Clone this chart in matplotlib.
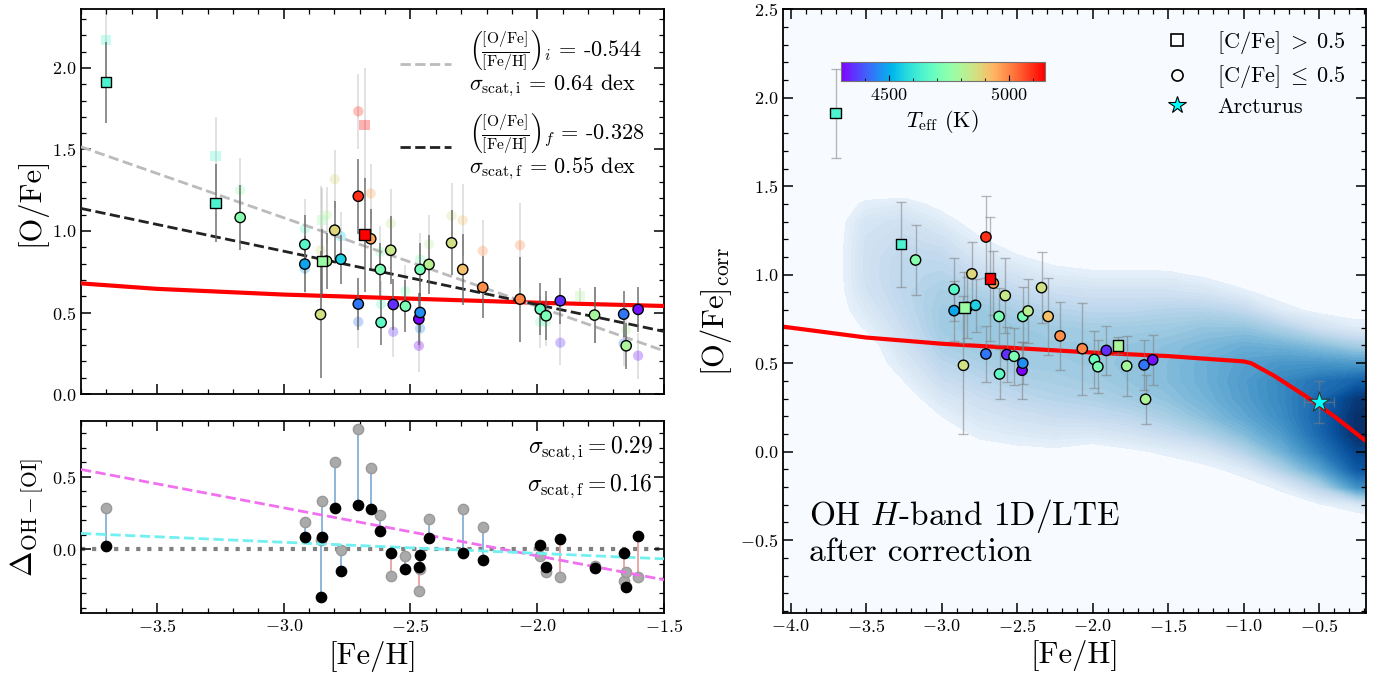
"""[O/Fe] vs [Fe/H] for the OH H-band sample: before/after correction.

Left: initial (faded) and corrected (solid) abundances with linear fits,
bottom: OH - [OI] differences. Right: corrected values on top of a
background density of field stars and a GCE model track.
"""

import matplotlib

matplotlib.use("Agg")

import matplotlib.pyplot as plt
import numpy as np
from matplotlib.colors import Normalize
from matplotlib.lines import Line2D
from matplotlib.ticker import MultipleLocator


plt.rcParams.update(
    {
        "font.family": "serif",
        "font.serif": ["cmr10"],
        "mathtext.fontset": "cm",
        "axes.formatter.use_mathtext": True,
        "axes.unicode_minus": True,
    }
)

# --- program stars --------------------------------------------------------
FEH = np.array([
    -3.702, -3.269, -3.172, -2.917, -2.917, -2.855, -2.848, -2.831, -2.799,
    -2.775, -2.706, -2.706, -2.681, -2.657, -2.619, -2.616, -2.578, -2.568,
    -2.520, -2.467, -2.462, -2.462, -2.427, -2.338, -2.294, -2.215, -2.068,
    -1.988, -1.965, -1.909, -1.830, -1.774, -1.659, -1.649, -1.602,
])
OFE_FINAL = np.array([
    1.912, 1.173, 1.083, 0.917, 0.797, 0.488, 0.815, 0.815, 1.005,
    0.827, 1.213, 0.552, 0.978, 0.952, 0.764, 0.439, 0.882, 0.549,
    0.539, 0.460, 0.500, 0.764, 0.795, 0.927, 0.764, 0.654, 0.582,
    0.521, 0.480, 0.572, 0.600, 0.484, 0.490, 0.296, 0.519,
])
OFE_INIT = np.array([
    2.170, 1.459, 1.250, 1.015, 0.770, 0.883, 1.066, 1.097, 1.318,
    0.968, 1.734, 0.443, 1.649, 1.230, 0.872, 0.552, 1.046, 0.382,
    0.631, 0.296, 0.402, 0.825, 0.919, 1.093, 1.066, 0.878, 0.913,
    0.443, 0.443, 0.315, 0.600, 0.484, 0.310, 0.392, 0.235,
])
OFE_ERR = np.array([
    0.25, 0.24, 0.20, 0.18, 0.17, 0.39, 0.20, 0.17, 0.18,
    0.15, 0.23, 0.16, 0.35, 0.18, 0.16, 0.14, 0.21, 0.155,
    0.16, 0.16, 0.12, 0.165, 0.18, 0.20, 0.22, 0.19, 0.26,
    0.16, 0.15, 0.14, 0.05, 0.17, 0.14, 0.14, 0.14,
])
TEFF = np.array([
    4640, 4640, 4740, 4660, 4490, 4860, 4770, 4800, 4880,
    4560, 5100, 4430, 5150, 4960, 4720, 4670, 4840, 4350,
    4720, 4300, 4460, 4710, 4820, 4860, 4920, 4990, 5000,
    4690, 4720, 4350, 4800, 4790, 4430, 4800, 4320,
])
CFE_RICH = np.array([
    1, 1, 0, 0, 0, 0, 1, 0, 0,
    0, 0, 0, 1, 0, 0, 0, 0, 0,
    0, 0, 0, 0, 0, 0, 0, 0, 0,
    0, 0, 0, 1, 0, 0, 0, 0,
], dtype=bool)
# corrected point drawn in the left panel (one star only shown faded there)
SHOWN_LEFT = np.ones(len(FEH), dtype=bool)
SHOWN_LEFT[30] = False

# --- OH - [OI] differences -------------------------------------------------
DELTA_FEH = np.array([
    -3.702, -2.917, -2.855, -2.848, -2.799, -2.775, -2.706, -2.657, -2.619,
    -2.578, -2.520, -2.467, -2.462, -2.427, -2.294, -2.215, -1.988, -1.965,
    -1.909, -1.774, -1.659, -1.649, -1.602,
])
DELTA_FINAL = np.array([
    0.023, 0.087, -0.326, 0.087, 0.287, -0.147, 0.303, 0.278, 0.128,
    -0.023, -0.138, -0.124, -0.039, 0.080, -0.023, -0.073, 0.028, -0.124,
    0.071, -0.131, -0.028, -0.257, 0.092,
])
DELTA_INIT = np.array([
    0.282, 0.186, 0.064, 0.335, 0.599, -0.005, 0.826, 0.557, 0.236,
    -0.183, -0.044, -0.284, -0.138, 0.206, 0.278, 0.151, -0.046, -0.158,
    -0.188, -0.115, -0.216, -0.156, -0.188,
])

# --- fits (slope, intercept) ----------------------------------------------
FIT_INIT = (-0.544, -0.551)
FIT_FINAL = (-0.328, -0.108)
FIT_DELTA_INIT = (-0.330, -0.704)
FIT_DELTA_FINAL = (-0.076, -0.179)

# --- Arcturus ---------------------------------------------------------------
ARCTURUS = (-0.50, 0.28)
ARCTURUS_ERR = (0.10, 0.12)

# --- GCE model track --------------------------------------------------------
GCE_FEH = [-4.10, -3.50, -3.00, -2.50, -2.00, -1.50, -1.00, -0.95,
           -0.80, -0.60, -0.40, -0.10]
GCE_OFE = [0.712, 0.645, 0.610, 0.585, 0.560, 0.540, 0.510, 0.500,
           0.430, 0.320, 0.200, 0.000]

# --- background field-star density (read on a coarse grid) -----------------
DENS_FEH = [-3.75, -3.5, -3.25, -3.0, -2.75, -2.5, -2.25, -2.0,
            -1.75, -1.5, -1.25, -1.0, -0.75, -0.5, -0.25, 0.0]
DENS_OFE = [1.5, 1.4, 1.3, 1.2, 1.1, 1.0, 0.9, 0.8, 0.7, 0.6, 0.5,
            0.4, 0.3, 0.2, 0.1, 0.0, -0.1, -0.2, -0.3, -0.4, -0.5]
DENSITY = [
    [0, 0, 0, 0, 0, 0, 0, 0, 0, 0, 0, 0, 0, 0, 0, 0],
    [0, .10, .12, .05, 0, 0, 0, 0, 0, 0, 0, 0, 0, 0, 0, 0],
    [0, .17, .20, .12, .03, 0, 0, 0, 0, 0, 0, 0, 0, 0, 0, 0],
    [0, .19, .24, .20, .09, .02, 0, 0, 0, 0, 0, 0, 0, 0, 0, 0],
    [0, .20, .27, .26, .16, .09, .04, .02, .02, 0, 0, 0, 0, 0, 0, 0],
    [0, .20, .28, .30, .24, .18, .12, .10, .10, .10, .06, 0, 0, 0, 0, 0],
    [0, .18, .28, .34, .32, .26, .22, .20, .20, .20, .17, .10, .03, 0, 0, 0],
    [0, .14, .26, .36, .38, .33, .30, .28, .28, .30, .30, .26, .12, .05, .03, .03],
    [0, .09, .23, .36, .40, .38, .36, .35, .36, .37, .40, .40, .32, .20, .12, .12],
    [0, .02, .19, .33, .38, .38, .38, .38, .40, .42, .46, .50, .48, .42, .34, .34],
    [0, 0, .14, .28, .33, .36, .37, .38, .41, .44, .50, .56, .60, .60, .58, .60],
    [0, 0, .08, .22, .28, .32, .34, .36, .40, .44, .50, .58, .66, .74, .80, .84],
    [0, 0, .02, .15, .22, .27, .30, .32, .36, .41, .48, .57, .66, .78, .96, 1.0],
    [0, 0, 0, .08, .16, .20, .23, .25, .28, .34, .43, .53, .64, .80, 1.0, 1.0],
    [0, 0, 0, .02, .10, .13, .15, .14, .18, .24, .32, .44, .58, .78, 1.0, 1.0],
    [0, 0, 0, 0, .03, .05, .06, .03, .06, .10, .16, .30, .48, .70, .92, .95],
    [0, 0, 0, 0, 0, 0, 0, 0, 0, .02, .05, .12, .32, .54, .84, .88],
    [0, 0, 0, 0, 0, 0, 0, 0, 0, 0, 0, .03, .10, .30, .62, .68],
    [0, 0, 0, 0, 0, 0, 0, 0, 0, 0, 0, 0, .02, .07, .14, .30],
    [0, 0, 0, 0, 0, 0, 0, 0, 0, 0, 0, 0, 0, 0, 0, .05],
    [0, 0, 0, 0, 0, 0, 0, 0, 0, 0, 0, 0, 0, 0, 0, 0],
]

CMAP = plt.get_cmap("rainbow")
NORM = Normalize(vmin=4300, vmax=5150)
MARKER_SIZE = 55


def style_axis(ax):
    ax.tick_params(which="both", direction="in", top=True, right=True,
                   labelsize=13)
    ax.tick_params(which="major", length=7, width=1.1)
    ax.tick_params(which="minor", length=3.5, width=0.9)
    for spine in ax.spines.values():
        spine.set_linewidth(1.3)


def plot_fit(ax, fit, **kwargs):
    slope, intercept = fit
    xx = np.array(ax.get_xlim())
    ax.plot(xx, intercept + slope * xx, **kwargs)


def scatter_groups(ax, x, y, teff, rich, **kwargs):
    for marker, mask in (("o", ~rich), ("s", rich)):
        ax.scatter(x[mask], y[mask], c=teff[mask], cmap=CMAP, norm=NORM,
                   marker=marker, s=MARKER_SIZE, **kwargs)


fig = plt.figure(figsize=(13.87, 6.77), dpi=100)
ax_top = fig.add_axes([0.0584, 0.418, 0.4203, 0.5683])
ax_bot = fig.add_axes([0.0584, 0.094, 0.4203, 0.2845], sharex=ax_top)
ax_r = fig.add_axes([0.5645, 0.095, 0.4203, 0.8913])

# ---------------------------------------------------------------- top left
ax_top.set_xlim(-3.8, -1.5)
ax_top.set_ylim(0.0, 2.36)
ax_top.errorbar(FEH, OFE_INIT, yerr=OFE_ERR, fmt="none", ecolor="0.55",
                elinewidth=1.2, alpha=0.3, zorder=1)
scatter_groups(ax_top, FEH, OFE_INIT, TEFF, CFE_RICH, alpha=0.3,
               edgecolors="none", zorder=2)
ax_top.plot(GCE_FEH, GCE_OFE, color="red", lw=3, zorder=3)
plot_fit(ax_top, FIT_INIT, color="#bbbbbb", lw=2, ls="--", zorder=3)
plot_fit(ax_top, FIT_FINAL, color="#222222", lw=2, ls="--", zorder=3)
ax_top.set_xlim(-3.8, -1.5)
sel = SHOWN_LEFT
ax_top.errorbar(FEH[sel], OFE_FINAL[sel], yerr=OFE_ERR[sel], fmt="none",
                ecolor="0.4", elinewidth=1.2, alpha=0.85, zorder=4)
scatter_groups(ax_top, FEH[sel], OFE_FINAL[sel], TEFF[sel], CFE_RICH[sel],
               edgecolors="black", linewidths=1.0, zorder=5)

handles = [
    Line2D([], [], color="#bbbbbb", lw=2, ls="--"),
    Line2D([], [], color="#222222", lw=2, ls="--"),
]
labels = [
    r"$\left(\frac{[\mathrm{O/Fe}]}{[\mathrm{Fe/H}]}\right)_{i}$ = -0.544"
    "\n" r"$\sigma_{\mathrm{scat,i}}$ = 0.64 dex",
    r"$\left(\frac{[\mathrm{O/Fe}]}{[\mathrm{Fe/H}]}\right)_{f}$ = -0.328"
    "\n" r"$\sigma_{\mathrm{scat,f}}$ = 0.55 dex",
]
leg = ax_top.legend(handles, labels, loc="upper right", frameon=False,
                    fontsize=16, handlelength=2.3, labelspacing=0.6,
                    borderaxespad=0.5)
for txt in leg.get_texts():
    txt.set_linespacing(0.95)
ax_top.set_ylabel("[O/Fe]", fontsize=22)
ax_top.yaxis.set_major_locator(MultipleLocator(0.5))
ax_top.yaxis.set_minor_locator(MultipleLocator(0.1))
ax_top.xaxis.set_major_locator(MultipleLocator(0.5))
ax_top.xaxis.set_minor_locator(MultipleLocator(0.1))
style_axis(ax_top)
ax_top.tick_params(labelbottom=False)

# ------------------------------------------------------------- bottom left
ax_bot.set_ylim(-0.44, 0.885)
for x, d0, d1 in zip(DELTA_FEH, DELTA_INIT, DELTA_FINAL):
    color = "#7aaad6" if d1 < d0 else "#e89a9a"
    ax_bot.plot([x, x], [d0, d1], color=color, lw=1.2, zorder=1)
ax_bot.scatter(DELTA_FEH, DELTA_INIT, s=MARKER_SIZE, color="#aaaaaa",
               edgecolors="#999999", linewidths=1, zorder=2)
ax_bot.scatter(DELTA_FEH, DELTA_FINAL, s=MARKER_SIZE, color="black",
               zorder=4)
ax_bot.axhline(0.0, color="#808080", lw=3, ls=":", zorder=0)
plot_fit(ax_bot, FIT_DELTA_INIT, color="#f070f0", lw=2, ls="--", zorder=3)
plot_fit(ax_bot, FIT_DELTA_FINAL, color="#70f0f0", lw=2, ls="--", zorder=3)
ax_bot.set_xlim(-3.8, -1.5)
ax_bot.text(0.981, 0.858, r"$\sigma_{\rm scat,i} = 0.29$", fontsize=17,
            ha="right", va="center", transform=ax_bot.transAxes)
ax_bot.text(0.981, 0.661, r"$\sigma_{\rm scat,f} = 0.16$", fontsize=17,
            ha="right", va="center", transform=ax_bot.transAxes)
ax_bot.set_xlabel("[Fe/H]", fontsize=22)
ax_bot.set_ylabel(r"$\Delta_{\rm OH-[OI]}$", fontsize=22)
ax_bot.yaxis.set_major_locator(MultipleLocator(0.5))
ax_bot.yaxis.set_minor_locator(MultipleLocator(0.1))
style_axis(ax_bot)
fig.align_ylabels([ax_top, ax_bot])

# ------------------------------------------------------------------- right
blues = plt.get_cmap("Blues")
ax_r.set_facecolor(blues(0.0))
ax_r.contourf(DENS_FEH, DENS_OFE[::-1], np.array(DENSITY)[::-1],
              levels=np.linspace(0.08, 1.01, 45), cmap=blues, vmin=0.0,
              vmax=1.0, zorder=0)
ax_r.plot(GCE_FEH, GCE_OFE, color="red", lw=3, zorder=2)
ax_r.errorbar(FEH, OFE_FINAL, yerr=OFE_ERR, fmt="none", ecolor="grey",
              elinewidth=1.0, capsize=3.5, alpha=0.55, zorder=3)
scatter_groups(ax_r, FEH, OFE_FINAL, TEFF, CFE_RICH, edgecolors="black",
               linewidths=1.0, zorder=4)
ax_r.errorbar([ARCTURUS[0]], [ARCTURUS[1]], xerr=[ARCTURUS_ERR[0]],
              yerr=[ARCTURUS_ERR[1]], fmt="none", ecolor="grey",
              elinewidth=1.0, capsize=3.5, alpha=0.55, zorder=3)
ax_r.scatter([ARCTURUS[0]], [ARCTURUS[1]], marker="*", s=230, color="cyan",
             edgecolors="#333333", linewidths=0.8, zorder=5)
ax_r.set_xlim(-4.05, -0.19)
ax_r.set_ylim(-0.91, 2.5)
ax_r.xaxis.set_major_locator(MultipleLocator(0.5))
ax_r.xaxis.set_minor_locator(MultipleLocator(0.1))
ax_r.yaxis.set_major_locator(MultipleLocator(0.5))
ax_r.yaxis.set_minor_locator(MultipleLocator(0.1))
style_axis(ax_r)
ax_r.set_xlabel("[Fe/H]", fontsize=22)
ax_r.set_ylabel(r"$[{\rm O/Fe}]_{\rm corr}$", fontsize=22)
ax_r.text(0.045, 0.075, "OH $H$-band 1D/LTE\nafter correction", fontsize=24,
          ha="left", va="bottom", linespacing=1.15, transform=ax_r.transAxes)

legend_handles = [
    Line2D([], [], marker="s", ls="none", mfc="white", mec="black", ms=8,
           mew=1.2),
    Line2D([], [], marker="o", ls="none", mfc="white", mec="black", ms=8,
           mew=1.2),
    Line2D([], [], marker="*", ls="none", mfc="cyan", mec="black", ms=13,
           mew=0.8),
]
legend_labels = [r"$[\mathrm{C/Fe}]\;>\;0.5$", r"$[\mathrm{C/Fe}]\;\leq\;0.5$",
                 "Arcturus"]
ax_r.legend(legend_handles, legend_labels, loc="upper right", frameon=False,
            fontsize=16, labelspacing=0.32, borderaxespad=0.5)

cax = ax_r.inset_axes([0.099, 0.881, 0.35, 0.031])
sm = plt.cm.ScalarMappable(norm=NORM, cmap=CMAP)
cb = fig.colorbar(sm, cax=cax, orientation="horizontal")
cb.set_ticks([4500, 5000])
cb.ax.xaxis.set_minor_locator(MultipleLocator(100))
cb.ax.tick_params(which="both", direction="in", labelsize=13)
cb.ax.tick_params(which="major", length=4)
cb.ax.tick_params(which="minor", length=2)
cb.outline.set_edgecolor("0.45")
cb.set_label(r"$T_{\rm eff}$ (K)", fontsize=16)

fig.savefig("out.png", dpi=100)
plt.close(fig)
